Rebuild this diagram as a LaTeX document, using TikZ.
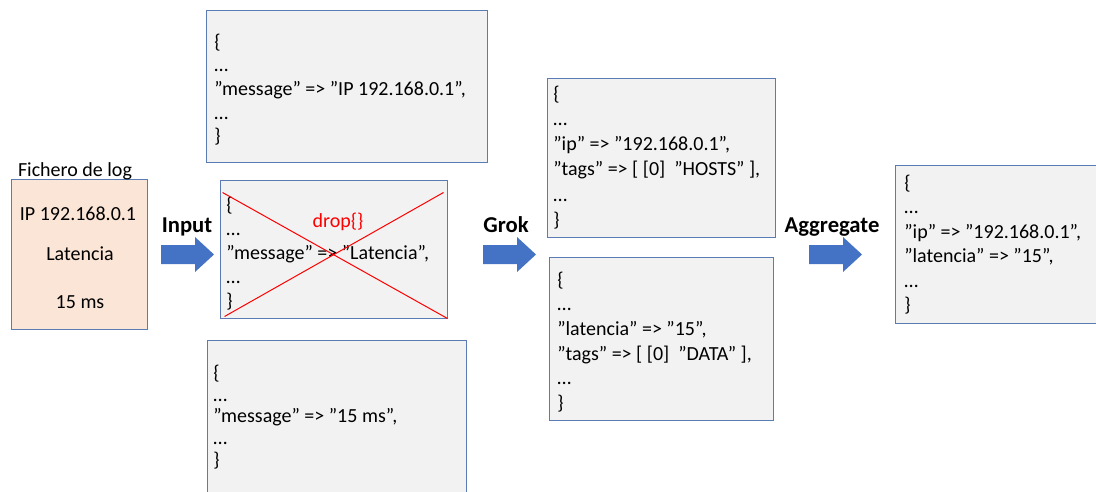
\documentclass[tikz,border=0pt]{standalone}
\usepackage{fontspec}
\setmainfont{Carlito}
\usetikzlibrary{fit,calc}
\definecolor{boxedge}{HTML}{5B7BB5}
\definecolor{boxfill}{HTML}{F2F2F2}
\definecolor{logfill}{HTML}{FBE5D6}
\definecolor{arrowblue}{HTML}{4472C4}
\definecolor{dropred}{HTML}{FF0000}
% invisible strut fixing the top of the first line of a code block
\newcommand\firstlinestrut{\rule{0pt}{12pt}}
\begin{document}
\begin{tikzpicture}[x=0.75pt,y=-0.75pt,
  eventbox/.style={draw=boxedge, fill=boxfill, line width=0.75pt, inner sep=0pt},
  logbox/.style={draw=boxedge, fill=logfill, line width=0.75pt, inner sep=0pt},
  codetext/.style={anchor=north west, align=left, inner sep=0pt,
    font={\fontsize{15}{#1}\selectfont}},
  plain/.style={anchor=base, inner sep=0pt, font={\fontsize{15}{18}\selectfont}},
  steplabel/.style={anchor=base, inner sep=0pt, font={\fontsize{17}{20}\selectfont\bfseries}},
  blockarrow/.style={fill=arrowblue},
  crossout/.style={draw=dropred, line width=0.75pt}]

\useasboundingbox (0,0) rectangle (1096,492);
\clip (0,0) rectangle (1096,492);

% ---- log file ----
\node[logbox, fit={(11,179) (147,329)}] (log) {};
\node[plain] (logtitle) at (75,176) {Fichero de log};
\node[plain] (logip)  at (78,220) {IP 192.168.0.1};
\node[plain] (loglat) at (80,260) {Latencia};
\node[plain] (logms)  at (80,308) {15 ms};

% ---- events produced by the input ----
\node[eventbox, fit={(206,11) (487,162)}] (evip) {};
\node[codetext=17.7pt] (evipcode) at (214,32)
  {\firstlinestrut\{\\…\\”message” => ”IP 192.168.0.1”,\\…\\\}};

\node[eventbox, fit={(220,180) (447,318)}] (evlat) {};
\node[codetext=18pt] (evlatcode) at (226,195)
  {\firstlinestrut\{\\…\\”message” => ”Latencia”,\\…\\\}};
\draw[crossout] ($(evlat.north west)+(3,13)$) -- ($(evlat.south east)+(0,0)$);
\draw[crossout] ($(evlat.north east)+(-4,13)$) -- ($(evlat.south west)+(5,-2)$);
\node[plain, text=dropred] (drop) at (338,227) {drop\{\}};

\node[eventbox, fit={(207,340) (466,512)}] (evms) {};
\node[codetext=16.3pt] (evmscode) at (213,363)
  {\firstlinestrut\{\\…\\”message” => ”15 ms”,\\…\\\}};

% ---- events after grok ----
\node[eventbox, fit={(547,79) (775,237)}] (grokip) {};
\node[codetext=18.9pt] (grokipcode) at (553,84)
  {\firstlinestrut\{\\…\\”ip” => ”192.168.0.1”,\\”tags” => [ [0]~~”HOSTS” ],\\…\\\}};

\node[eventbox, fit={(549,257) (773,420)}] (groklat) {};
\node[codetext=18.45pt] (groklatcode) at (557,270)
  {\firstlinestrut\{\\…\\”latencia” => ”15”,\\”tags” => [ [0]~~”DATA” ],\\…\\\}};

% ---- aggregated event ----
\node[eventbox, fit={(895,165) (1112,323)}] (agg) {};
\node[codetext=18.4pt] (aggcode) at (904,173)
  {\firstlinestrut\{\\…\\”ip” => ”192.168.0.1”,\\”latencia” => ”15”,\\…\\\}};

% ---- processing steps ----
\foreach \x/\name/\lbl/\lx in {161/input/Input/187, 483/grok/Grok/506, 809/aggregate/Aggregate/832}{
  \fill[blockarrow] (\x,245) -- ++(34,0) -- ++(0,-8) -- ++(19,17.5) -- ++(-19,17.5)
    -- ++(0,-8) -- ++(-34,0) -- cycle;
  \node[steplabel] (\name) at (\lx,232) {\lbl};
}
\end{tikzpicture}
\end{document}
